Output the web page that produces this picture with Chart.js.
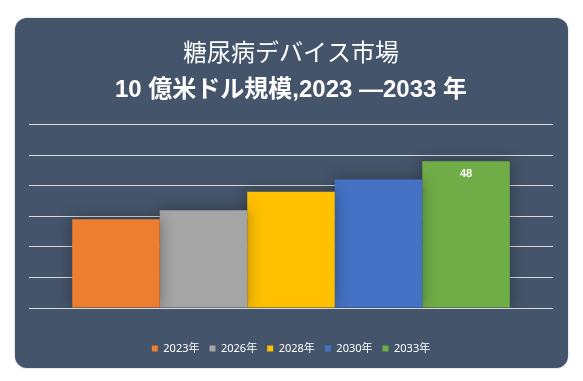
<!DOCTYPE html>
<html>
<head>
<meta charset="utf-8">
<script src="https://cdn.jsdelivr.net/npm/chart.js@4/dist/chart.umd.min.js"></script>
<style>
  html,body{margin:0;padding:0;background:#ffffff;}
  #panel{position:absolute;left:15px;top:18px;width:553px;height:350px;background:#44546A;border-radius:12px;box-shadow:0 0 2px rgba(120,130,150,0.6);}
  #panel canvas{display:block;}
</style>
</head>
<body>
<div id="panel"><canvas id="c"></canvas></div>
<script>
const titleLine1 = "糖尿病デバイス市場";
const titleLine2 = "10 億米ドル規模,2023 —2033 年";
const categories = [""];
const seriesNames = ["2023年", "2026年", "2028年", "2030年", "2033年"];
const seriesValues = [29, 32, 38, 42, 48];
const seriesColors = ["#ED7D31", "#A5A5A5", "#FFC000", "#4472C4", "#70AD47"];
const shownLabels = [false, false, false, false, true];
const yTicks = [0, 10, 20, 30, 40, 50, 60];

const datasets = seriesNames.map((name, i) => ({
  label: name,
  data: [seriesValues[i]],
  backgroundColor: seriesColors[i],
  borderWidth: 0,
  barPercentage: 1,
  categoryPercentage: 0.835
}));

const shadowPlugin = {
  id: 'barShadow',
  beforeDatasetsDraw(chart) {
    const ctx = chart.ctx;
    ctx.save();
    ctx.shadowColor = 'rgba(0,0,0,0.35)';
    ctx.shadowBlur = 14;
    ctx.shadowOffsetX = 0;
    ctx.shadowOffsetY = 0;
  },
  afterDatasetsDraw(chart) {
    chart.ctx.restore();
    const ctx = chart.ctx;
    ctx.save();
    ctx.fillStyle = '#ffffff';
    ctx.font = 'bold 11px "Liberation Sans", Arial, sans-serif';
    ctx.textAlign = 'center';
    ctx.textBaseline = 'middle';
    chart.data.datasets.forEach((ds, i) => {
      if (!shownLabels[i]) return;
      const meta = chart.getDatasetMeta(i);
      meta.data.forEach((bar, j) => {
        ctx.fillText(String(ds.data[j]), bar.x, bar.y + 13);
      });
    });
    ctx.restore();
  }
};

new Chart(document.getElementById('c'), {
  type: 'bar',
  data: { labels: categories, datasets },
  options: {
    responsive: true,
    maintainAspectRatio: false,
    animation: false,
    layout: { padding: { left: 14, right: 15, top: 0, bottom: 4 } },
    scales: {
      x: {
        grid: { display: false, drawTicks: false },
        border: { display: false },
        ticks: { display: false },
        afterFit(axis) { axis.height = 25; }
      },
      y: {
        min: yTicks[0],
        max: yTicks[yTicks.length - 1],
        afterBuildTicks(axis) { axis.ticks = yTicks.map(v => ({ value: v })); },
        grid: { color: '#D9D9D9', lineWidth: 1, drawTicks: false },
        border: { display: false },
        ticks: { display: false }
      }
    },
    plugins: {
      title: {
        display: true,
        text: titleLine1,
        color: '#ffffff',
        font: { family: '"Noto Sans CJK JP", sans-serif', size: 24, weight: 'normal' },
        padding: { top: 19, bottom: 10 }
      },
      subtitle: {
        display: true,
        text: titleLine2,
        color: '#ffffff',
        font: { family: '"Liberation Sans", "Noto Sans CJK JP", sans-serif', size: 24, weight: 'bold' },
        padding: { top: 0, bottom: 20 }
      },
      legend: {
        position: 'bottom',
        labels: {
          color: '#ffffff',
          boxWidth: 6,
          boxHeight: 6,
          padding: 10,
          font: { family: '"Noto Sans", "Noto Sans CJK JP", sans-serif', size: 11 }
        }
      },
      tooltip: { enabled: false }
    }
  },
  plugins: [shadowPlugin]
});
</script>
</body>
</html>
